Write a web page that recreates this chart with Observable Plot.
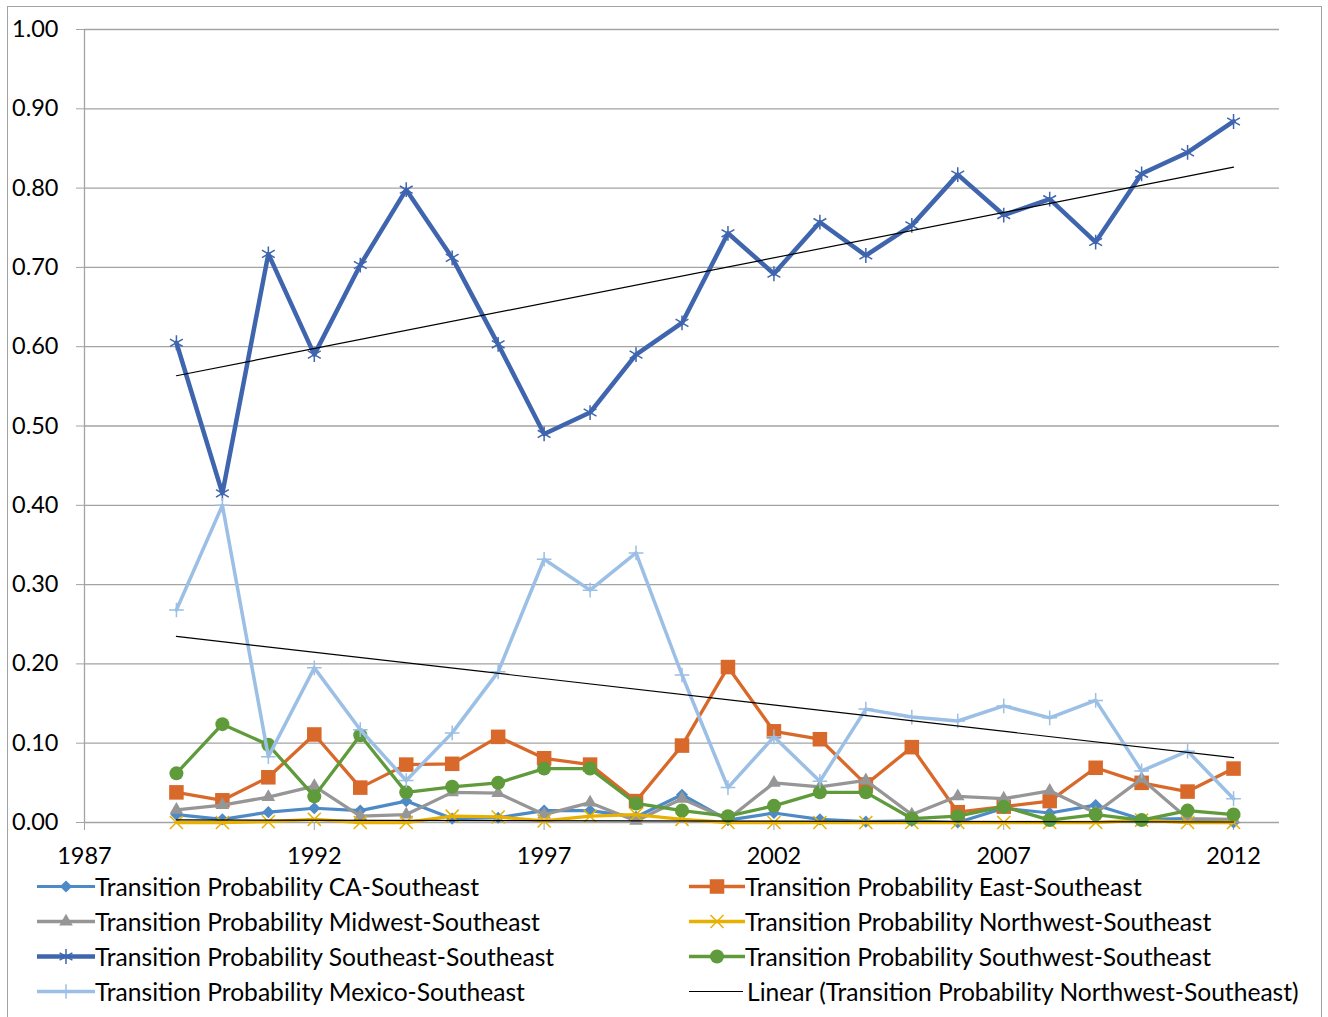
<!DOCTYPE html>
<html><head><meta charset="utf-8">
<script src="https://cdn.jsdelivr.net/npm/d3@7"></script>
<script src="https://cdn.jsdelivr.net/npm/@observablehq/plot@0.6"></script>
<style>
body{margin:0;background:#fff;font-family:Lato,sans-serif;}
#frame{position:absolute;left:7px;top:6px;width:1315px;height:1040px;border:1.5px solid #a3a3a3;box-sizing:border-box;}
#chart{position:absolute;left:0;top:0;}
#legend{position:absolute;left:0;top:868px;width:1328px;height:149px;}
.item{position:absolute;height:35px;display:flex;align-items:center;font-size:24.6px;color:#000;white-space:nowrap;}
.item svg{display:block;}
</style></head><body>
<div id="frame"></div><div id="chart"></div><div id="legend"></div>
<script>
const years = [1989,1990,1991,1992,1993,1994,1995,1996,1997,1998,1999,2000,2001,2002,2003,2004,2005,2006,2007,2008,2009,2010,2011,2012];
const caSoutheast =        [0.010,0.004,0.013,0.018,0.015,0.027,0.005,0.006,0.015,0.015,0.007,0.035,0.003,0.012,0.004,0.001,0.002,0.000,0.018,0.012,0.022,0.004,0.005,0.000];
const eastSoutheast =      [0.038,0.028,0.057,0.111,0.044,0.073,0.074,0.108,0.081,0.073,0.027,0.097,0.196,0.115,0.105,0.048,0.095,0.013,0.020,0.027,0.069,0.050,0.039,0.068];
const midwestSoutheast =   [0.016,0.022,0.032,0.046,0.008,0.010,0.038,0.037,0.010,0.025,0.002,0.030,0.004,0.050,0.045,0.053,0.010,0.033,0.030,0.040,0.012,0.055,0.005,0.004];
const northwestSoutheast = [0.000,0.000,0.001,0.004,0.000,0.000,0.008,0.007,0.002,0.008,0.010,0.004,0.000,0.000,0.000,0.000,0.000,0.000,0.000,0.000,0.000,0.003,0.000,0.000];
const southeastSoutheast = [0.605,0.415,0.717,0.590,0.703,0.798,0.712,0.603,0.490,0.517,0.590,0.630,0.743,0.692,0.757,0.715,0.753,0.817,0.766,0.786,0.732,0.818,0.845,0.884];
const southwestSoutheast = [0.062,0.124,0.098,0.033,0.110,0.038,0.045,0.050,0.068,0.068,0.024,0.015,0.008,0.021,0.038,0.038,0.005,0.008,0.020,0.003,0.010,0.003,0.015,0.010];
const mexicoSoutheast =    [0.268,0.400,0.083,0.195,0.117,0.053,0.113,0.190,0.332,0.293,0.340,0.186,0.044,0.108,0.052,0.143,0.133,0.128,0.147,0.132,0.154,0.065,0.090,0.030];
const xTicks = [1987,1992,1997,2002,2007,2012];
const yTicks = [0,0.1,0.2,0.3,0.4,0.5,0.6,0.7,0.8,0.9,1.0];
const trendLabel = "Linear (Transition Probability Northwest-Southeast)";

const series = [
  {name:"Transition Probability CA-Southeast", values:caSoutheast, color:"#4d8ac6", symbol:"diamond2", r:5.5, filled:true, w:3.2},
  {name:"Transition Probability East-Southeast", values:eastSoutheast, color:"#d8692a", symbol:"square", r:8.2, filled:true, w:3.3},
  {name:"Transition Probability Midwest-Southeast", values:midwestSoutheast, color:"#969696", symbol:"triangle2", r:6.5, filled:true, w:3.3},
  {name:"Transition Probability Northwest-Southeast", values:northwestSoutheast, color:"#e8b000", symbol:"times", r:6, filled:false, w:3.3},
  {name:"Transition Probability Southeast-Southeast", values:southeastSoutheast, color:"#3f65ae", symbol:"asterisk", r:7, filled:false, w:4.5},
  {name:"Transition Probability Southwest-Southeast", values:southwestSoutheast, color:"#5f9a3b", symbol:"circle", r:7, filled:true, w:3.3},
  {name:"Transition Probability Mexico-Southeast", values:mexicoSoutheast, color:"#9bbfe5", symbol:"plus", r:4.8, filled:false, w:3.5}
];
const rowsOf = s => years.map((year,i)=>({year, value:s.values[i], series:s.name}));

const marks = [
  Plot.gridY(yTicks, {stroke:"#a3a3a3", strokeOpacity:1, strokeWidth:1.3}),
  Plot.ruleX([1987], {stroke:"#a3a3a3", strokeWidth:1.3}),
  Plot.axisY(yTicks, {tickSize:8, tickPadding:18, tickFormat:d3.format(".2f"), stroke:"#a3a3a3", fill:"#000", label:null}),
  Plot.axisX(xTicks, {tickSize:8, tickPadding:17, tickFormat:d=>String(d), stroke:"#a3a3a3", fill:"#000", label:null})
];
for (const s of series) {
  const rows = rowsOf(s);
  marks.push(Plot.line(rows, {x:"year", y:"value", stroke:s.color, strokeWidth:s.w, strokeLinejoin:"round"}));
  if (s.filled) marks.push(Plot.dot(rows, {x:"year", y:"value", symbol:()=>s.symbol, r:s.r, fill:s.color, stroke:"none"}));
  else marks.push(Plot.dot(rows, {x:"year", y:"value", symbol:()=>s.symbol, r:s.r, stroke:s.color, strokeWidth:1.5, fill:"none"}));
}
for (const idx of [4,6,3]) {
  marks.push(Plot.linearRegressionY(rowsOf(series[idx]), {x:"year", y:"value", stroke:"#000", strokeWidth:1.2, ci:0}));
}

const chart = Plot.plot({
  width:1328, height:880,
  marginLeft:84, marginRight:49, marginTop:29, marginBottom:58,
  style:{fontFamily:"Lato, sans-serif", fontSize:"23.5px", background:"transparent", overflow:"visible"},
  x:{domain:[1987,2013]},
  y:{domain:[0,1]},
  symbol:{type:"identity"},
  marks
});
document.getElementById("chart").appendChild(chart);

const symMap = {diamond2:d3.symbolDiamond2, square:d3.symbolSquare, triangle2:d3.symbolTriangle2, times:d3.symbolTimes, asterisk:d3.symbolAsterisk, circle:d3.symbolCircle, plus:d3.symbolPlus};
const legendOrder = [
  [0,37,18],[2,37,53],[4,37,88],[6,37,123],
  [1,689,18],[3,689,53],[5,689,88],[null,689,123]
];
const legend = d3.select("#legend");
for (const [idx,x,cy] of legendOrder) {
  const item = legend.append("div").attr("class","item").style("left",x+"px").style("top",(cy-17.5)+"px");
  const sw = idx===null ? 56 : (x<100 ? 58 : 56);
  const svg = item.append("svg").attr("width",sw).attr("height",35);
  if (idx===null) {
    svg.append("line").attr("x1",0).attr("x2",54).attr("y1",17.5).attr("y2",17.5).attr("stroke","#000").attr("stroke-width",1.2);
    item.append("span").style("margin-left","2px").text(trendLabel);
  } else {
    const s = series[idx];
    svg.append("line").attr("x1",0).attr("x2",sw).attr("y1",17.5).attr("y2",17.5).attr("stroke",s.color).attr("stroke-width",s.w);
    const size = Math.PI*s.r*s.r;
    svg.append("path").attr("transform",`translate(${sw/2},17.5)`).attr("d",d3.symbol(symMap[s.symbol],size)())
      .attr("fill",s.filled?s.color:"none").attr("stroke",s.filled?"none":s.color).attr("stroke-width",1.5);
    item.append("span").text(s.name);
  }
}
</script>
</body></html>
